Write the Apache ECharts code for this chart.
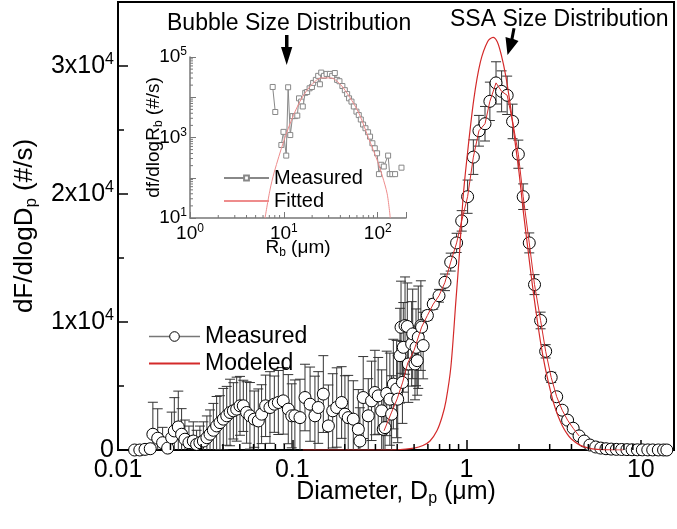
<!DOCTYPE html>
<html><head><meta charset="utf-8">
<script src="https://cdn.jsdelivr.net/npm/echarts@6.0.0/dist/echarts.min.js"></script>
<style>html,body{margin:0;padding:0;background:#fff}#c{width:677px;height:529px}</style>
</head><body><div id="c"></div>
<script>
// ---------- main chart: measured SSA size distribution (D in um, dF/dlogD in #/s, error) ----------
const measX = [0.01245,0.01334,0.01429,0.01531,0.01585,0.0169,0.01803,0.01928,0.02032,0.02104,0.02218,0.02317,0.02421,0.02553,0.02704,0.02825,0.02951,0.0309,0.03236,0.03373,0.03524,0.03681,0.03846,0.04018,0.04207,0.04395,0.04592,0.04797,0.05012,0.05236,0.0547,0.05715,0.06053,0.06383,0.06668,0.07031,0.07447,0.07889,0.08318,0.08872,0.09484,0.09931,0.1035,0.1107,0.1183,0.1265,0.1349,0.1409,0.1507,0.1611,0.1706,0.1799,0.1919,0.2005,0.2094,0.2239,0.2393,0.2443,0.2553,0.2729,0.2851,0.2979,0.3112,0.3258,0.3327,0.3404,0.3483,0.3631,0.3715,0.3802,0.3972,0.4027,0.415,0.4207,0.4285,0.4335,0.4436,0.4571,0.4634,0.4842,0.4909,0.5058,0.5129,0.5212,0.5284,0.547,0.5636,
  0.552,0.596,0.644,0.695,0.752,0.811,0.877,0.938,1.014,1.094,1.178,1.276,1.361,1.476,1.589,1.710,1.837,1.982,2.113,2.29,2.455,2.66,2.844,3.06,3.29,3.54,3.80,4.09,4.42,4.73,5.10,5.51,5.89,6.31,6.76,7.24,7.76,8.32,8.91,9.55,10.2,10.96,11.7,12.6,13.5,14.1];
const measY = [0,0,50,100,1230,920,570,150,960,1490,1800,1230,840,570,700,440,570,700,960,1230,1540,1880,2140,2410,2670,2930,3060,3190,3450,3450,2930,2670,2410,2270,2800,3450,3320,3580,3710,3840,3190,2670,2670,2530,4100,3580,2670,3320,4370,1880,3060,3320,3710,2800,2530,2410,1620,700,4100,2670,3840,4490,4230,3060,1620,1750,4420,3970,2800,5150,4760,3970,7370,9590,5280,8020,9720,9650,6720,8290,9070,6720,8020,6980,8810,9720,8160,
  9600,10510,11400,12050,13100,14680,16180,17900,19790,22880,24940,25490,27240,28680,28020,27710,25670,23110,19790,16180,12920,10120,7710,5670,4160,3110,2330,1700,1100,700,390,235,150,100,70,50,40,30,20,15,10,8,5,3,2,0];
const measErr = [0,0,0,300,2500,2300,1200,600,2000,2600,2800,2000,1500,1300,1500,1100,1300,1500,1700,1900,2100,2300,2100,2400,2300,2600,2200,2500,2300,2000,2400,2600,2200,2500,2300,2400,2800,2200,2500,2600,2700,2500,2800,3000,2600,2900,3100,2800,3000,3200,2900,3100,2800,3000,3300,3000,3100,2600,3200,2900,3100,3300,3000,3200,2500,2600,3300,3600,3000,3500,3800,3400,3700,3600,3200,3500,3800,3400,3000,3300,3500,2800,3000,2700,4000,3500,2600,
  300,350,400,500,650,700,750,800,1300,1350,1200,1350,1500,1650,1600,1500,1350,1100,1000,780,780,650,520,400,300,260,220,180,150,120,100,80,50,40,30,20,20,10,10,10,0,0,0,0,0,0];
// modeled curve
const modelX = [0.115,0.2,0.3,0.4,0.5,0.562,0.617,0.676,0.724,0.762,0.813,0.869,0.912,0.953,1.0,1.10,1.20,1.32,1.42,1.50,1.58,1.68,1.78,1.88,2.0,2.11,2.24,2.37,2.51,2.66,2.82,2.99,3.16,3.35,3.55,3.76,3.98,4.47,5.01,5.62,6.31,7.94];
const modelY = [0,0,0,20,150,350,706,1500,2600,3840,6500,11690,15500,19530,22500,27370,30300,31900,32240,31900,30900,29200,27000,24500,21700,18800,15900,13200,10700,8400,6500,4950,3660,2650,1880,1300,880,380,150,50,17,0];
// thin red trace through the measured points
const traceX = [0.336,0.37,0.40,0.43,0.46,0.50,0.552,0.596,0.644,0.695,0.752,0.811,0.877,0.938,1.014,1.094,1.178,1.276,1.361,1.476,1.589,1.71,1.837,1.982,2.113,2.29,2.455,2.66,2.844,3.06,3.29,3.54,3.8,4.09,4.42];
const traceY = [1500,2900,4000,5300,6800,7800,9600,10510,11400,12050,13100,14680,16180,17900,19790,22880,24940,25490,27240,28680,28020,27710,25670,23110,19790,16180,12920,10120,7710,5670,4160,3110,2330,1700,1100];
// ---------- inset: bubble size distribution (R_b in um, df/dlogR_b) ----------
const bubX = [7.6,8.1,null,9.4,9.9,10.6,11.1,11.7,12.4,13.2,13.9,14.5,15.3,15.9,16.9,17.7,18.8,19.9,20.5,21.9,23.2,24.2,25.0,26.7,28.5,30.9,32.7,34.9,36.9,39.1,42.0,44.6,47.2,49.5,52.5,55.6,59.3,62.8,66.0,69.8,74.0,78.9,82.8,87.7,93.0,98.4,103,109,116,129,134,143,153,null,179];
const bubY = [18000,4300,null,650,1380,355,17700,1150,3400,3400,3500,9400,7800,5900,12900,13500,16700,18000,22700,27000,34000,21000,41000,34000,38000,38000,34000,40000,27000,25000,19000,15000,12000,9400,7800,5900,4400,3600,2800,2100,1700,1350,1050,720,540,405,123,210,190,355,123,123,123,null,178];
const fitX = [6.3,7.1,7.9,10,12.6,15.8,20,25.1,31.6,39.8,50.1,63,79.4,100,112,126,136];
const fitY = [10,49,138,830,3500,10200,21100,30200,30200,21100,10200,4000,1000,250,110,40,10];
// ---------- ticks ----------
const mainXLabels = {'-2':'0.01','-1':'0.1','0':'1','1':'10'};
const mainXMinor = [0.02,0.03,0.04,0.05,0.06,0.07,0.08,0.09,0.2,0.3,0.4,0.5,0.6,0.7,0.8,0.9,2,3,4,5,6,7,8,9];
const mainYMinor = [5000,15000,25000];
const insetXMinor = [2,3,4,5,6,7,8,9,20,30,40,50,60,70,80,90];
const insetYMinor = [20,30,40,50,60,70,80,90,200,300,400,500,600,700,800,900,2000,3000,4000,5000,6000,7000,8000,9000,20000,30000,40000,50000,60000,70000,80000,90000];

const FONT = 'Liberation Sans, Arial, sans-serif';
const chart = echarts.init(document.getElementById('c'));
const pairs = (xs, ys) => xs.map((x, i) => [x, ys[i]]);
const lg = v => Math.log(v) / Math.LN10;

function tickSeries(name, values, xi, yi, dir, len, fixed) {
  return {
    type: 'custom', name, xAxisIndex: xi, yAxisIndex: yi, silent: true, clip: false, z: 5,
    data: values.map(v => dir === 'x' ? [v, fixed] : [fixed, v]),
    renderItem: (params, api) => {
      const p = api.coord([api.value(0), api.value(1)]);
      const shape = dir === 'x' ? {x1: p[0], y1: p[1], x2: p[0], y2: p[1] - len}
                                : {x1: p[0], y1: p[1], x2: p[0] + len, y2: p[1]};
      return {type: 'line', shape, style: {stroke: xi === 0 ? '#000' : '#777', lineWidth: xi === 0 ? 1.5 : 1}};
    }
  };
}

const supRich = (big, small, up) => ({
  b: {fontSize: big, fontFamily: FONT, color: '#000'},
  s: {fontSize: small, fontFamily: FONT, color: '#000', padding: [0, 0, up, 0]}
});

chart.setOption({
  animation: false,
  backgroundColor: '#fff',
  grid: [
    {left: 118, top: 2, right: 3, bottom: 79, show: true, borderColor: '#000', borderWidth: 2, backgroundColor: 'transparent'},
    {left: 190, top: 57, width: 216, height: 161}
  ],
  xAxis: [
    {type: 'log', gridIndex: 0, min: 0.01, max: 15.5, logBase: 10,
     axisLine: {lineStyle: {color: '#000', width: 2}},
     axisTick: {inside: true, length: 10, lineStyle: {color: '#000', width: 1.5}},
     splitLine: {show: false},
     axisLabel: {margin: 8, fontSize: 25, fontFamily: FONT, color: '#000',
       formatter: v => { const l = lg(v); const r = Math.round(l); return Math.abs(l - r) < 1e-6 ? (mainXLabels[String(r)] || '') : ''; }},
     name: 'Diameter, D{sub|p} (\u03bcm)', nameLocation: 'middle', nameGap: 27, nameMoveOverlap: false,
     nameTextStyle: {fontSize: 25, fontFamily: FONT, color: '#000',
       rich: {sub: {fontSize: 16, fontFamily: FONT, color: '#000', padding: [14, 0, 0, 0]}}}},
    {type: 'log', gridIndex: 1, min: 1, max: 200, logBase: 10,
     axisLine: {lineStyle: {color: '#777', width: 1.5}},
     axisTick: {inside: true, length: 6, lineStyle: {color: '#777'}},
     splitLine: {show: false},
     axisLabel: {margin: 5, fontFamily: FONT, color: '#000', rich: supRich(19, 12, 10),
       formatter: v => { const l = lg(v); const r = Math.round(l); return Math.abs(l - r) < 1e-6 ? '{b|10}{s|' + r + '}' : ''; }},
     name: 'R{sub|b} (\u03bcm)', nameLocation: 'middle', nameGap: 19, nameMoveOverlap: false,
     nameTextStyle: {fontSize: 19, fontFamily: FONT, color: '#000',
       rich: {sub: {fontSize: 12, fontFamily: FONT, color: '#000', padding: [10, 0, 0, 0]}}}}
  ],
  yAxis: [
    {type: 'value', gridIndex: 0, min: 0, max: 35000, interval: 10000,
     axisLine: {lineStyle: {color: '#000', width: 2}},
     axisTick: {inside: true, length: 10, lineStyle: {color: '#000', width: 1.5}},
     splitLine: {show: false},
     axisLabel: {margin: 4, fontFamily: FONT, color: '#000', rich: supRich(25, 16, 12),
       formatter: v => v === 0 ? '{b|0}' : (v % 10000 === 0 && v <= 30000 ? '{b|' + (v / 10000) + 'x10}{s|4}' : '')},
     name: 'dF/dlogD{sub|p} (#/s)', nameLocation: 'middle', nameGap: 70,
     nameTextStyle: {fontSize: 26, fontFamily: FONT, color: '#000',
       rich: {sub: {fontSize: 17, fontFamily: FONT, color: '#000', padding: [14, 0, 0, 0]}}}},
    {type: 'log', gridIndex: 1, min: 10, max: 100000, logBase: 10,
     axisLine: {lineStyle: {color: '#777', width: 1.5}},
     axisTick: {inside: true, length: 6, lineStyle: {color: '#777'}},
     splitLine: {show: false},
     axisLabel: {margin: 3, fontFamily: FONT, color: '#000', rich: supRich(19, 12, 10),
       formatter: v => { const l = lg(v); const r = Math.round(l); return (Math.abs(l - r) < 1e-6 && r % 2 === 1) ? '{b|10}{s|' + r + '}' : ''; }},
     name: 'df/dlogR{sub|b} (#/s)', nameLocation: 'middle', nameGap: 25, nameMoveOverlap: false,
     nameTextStyle: {fontSize: 19, fontFamily: FONT, color: '#000',
       rich: {sub: {fontSize: 12, fontFamily: FONT, color: '#000', padding: [10, 0, 0, 0]}}}}
  ],
  legend: [
    {left: 143, top: 320, orient: 'vertical', itemWidth: 51, itemHeight: 12, itemGap: 4, selectedMode: false,
     textStyle: {fontSize: 23, fontFamily: FONT, color: '#000'},
     data: [{name: 'Measured', lineStyle: {color: '#777', width: 1.5, opacity: 1}, itemStyle: {borderWidth: 1}},
            {name: 'Modeled', itemStyle: {opacity: 0}}]},
    {left: 218, top: 163, orient: 'vertical', itemWidth: 45, itemHeight: 6, itemGap: 3, selectedMode: false,
     textStyle: {fontSize: 20, fontFamily: FONT, color: '#000'},
     formatter: n => n.replace(' (inset)', ''),
     data: [{name: 'Measured (inset)'}, {name: 'Fitted', itemStyle: {opacity: 0}}]}
  ],
  series: [
    // error bars
    {type: 'custom', name: 'err', xAxisIndex: 0, yAxisIndex: 0, silent: true, z: 2, clip: true,
     data: measX.map((x, i) => [x, measY[i], measErr[i]]),
     renderItem: (params, api) => {
       const x = api.value(0), y = api.value(1), e = api.value(2);
       if (!e) return null;
       const top = api.coord([x, y + e]);
       const lo = y - e;
       const bot = api.coord([x, Math.max(lo, 0)]);
       const ch = [];
       ch.push({type: 'line', shape: {x1: top[0], y1: top[1], x2: bot[0], y2: bot[1]}, style: {stroke: '#333', lineWidth: 1}});
       ch.push({type: 'line', shape: {x1: top[0] - 5, y1: top[1], x2: top[0] + 5, y2: top[1]}, style: {stroke: '#333', lineWidth: 1}});
       if (lo > 0) ch.push({type: 'line', shape: {x1: bot[0] - 5, y1: bot[1], x2: bot[0] + 5, y2: bot[1]}, style: {stroke: '#333', lineWidth: 1}});
       return {type: 'group', children: ch};
     }},
    {type: 'line', name: 'Measured', xAxisIndex: 0, yAxisIndex: 0, z: 3,
     data: pairs(measX, measY), symbol: 'circle', symbolSize: 12, showAllSymbol: true,
     lineStyle: {opacity: 0, width: 0},
     itemStyle: {color: '#fff', borderColor: '#000', borderWidth: 1}},
    {type: 'line', name: 'Modeled', xAxisIndex: 0, yAxisIndex: 0, z: 4, smooth: 0.3,
     data: pairs(modelX, modelY), showSymbol: false, symbol: 'none',
     lineStyle: {color: '#d42a2a', width: 1.2}, itemStyle: {color: '#d42a2a'}},
    {type: 'line', name: 'trace', xAxisIndex: 0, yAxisIndex: 0, z: 4,
     data: pairs(traceX, traceY), showSymbol: false, symbol: 'none',
     lineStyle: {color: '#d42a2a', width: 1}},
    // inset
    {type: 'line', name: 'Measured (inset)', xAxisIndex: 1, yAxisIndex: 1, z: 3, connectNulls: false,
     data: pairs(bubX, bubY).map(p => p[0] === null ? [null, null] : p),
     symbol: 'rect', symbolSize: 5, showAllSymbol: true,
     lineStyle: {color: '#888', width: 1}, itemStyle: {color: '#fff', borderColor: '#888', borderWidth: 1}},
    {type: 'line', name: 'Fitted', xAxisIndex: 1, yAxisIndex: 1, z: 4, smooth: 0.3,
     data: pairs(fitX, fitY), showSymbol: false, symbol: 'none',
     lineStyle: {color: '#ee8c8c', width: 1}, itemStyle: {color: '#ee8c8c'}},
    tickSeries('mxminor', mainXMinor, 0, 0, 'x', 6, 0),
    tickSeries('myminor', mainYMinor, 0, 0, 'y', 6, 0.01),
    tickSeries('ixminor', insetXMinor, 1, 1, 'x', 3, 10),
    tickSeries('iyminor', insetYMinor, 1, 1, 'y', 3, 1)
  ],
  graphic: [
    {type: 'text', left: 167, top: 12, style: {text: 'Bubble Size Distribution', font: '23px ' + FONT, fill: '#000'}},
    {type: 'text', left: 450, top: 8, style: {text: 'SSA Size Distribution', font: '23px ' + FONT, fill: '#000'}},
    {type: 'polygon', shape: {points: [[285, 35], [288.5, 35], [288.5, 47], [292.3, 47], [286.7, 65], [281, 47], [285, 47]]}, style: {fill: '#000'}},
    {type: 'polygon', shape: {points: [[512.5, 28], [515.5, 28.5], [513.5, 39], [518.5, 41], [507.5, 55], [505.5, 37], [510.5, 38.5]]}, style: {fill: '#000'}}
  ]
});
</script></body></html>
